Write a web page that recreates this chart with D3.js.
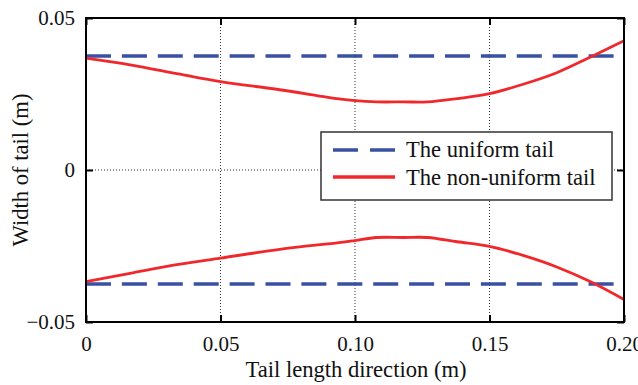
<!DOCTYPE html>
<html>
<head>
<meta charset="utf-8">
<script src="https://d3js.org/d3.v7.min.js"></script>
<style>
  body { margin: 0; background: #fff; }
  svg text { font-family: 'Liberation Serif', 'Times New Roman', Times, 'DejaVu Serif', serif !important; fill: #111; }
</style>
</head>
<body>
<div id="chart"></div>
<script>
// data
var xs      = [0, 0.0164, 0.035, 0.05, 0.072, 0.094, 0.1, 0.108, 0.118, 0.127, 0.138, 0.15, 0.1625, 0.175, 0.1874, 0.2];
var upper   = [0.0368, 0.0346, 0.0315, 0.0291, 0.0264, 0.0234, 0.0228, 0.0224, 0.0224, 0.0224, 0.0235, 0.0251, 0.0282, 0.0320, 0.0371, 0.0425];
var lower   = [-0.0367, -0.0340, -0.0310, -0.0290, -0.0261, -0.0239, -0.0232, -0.0222, -0.0222, -0.0222, -0.0236, -0.0251, -0.0281, -0.0319, -0.0367, -0.0426];
var uniformW = 0.0375;
var xTicks = [0, 0.05, 0.10, 0.15, 0.20];
var xTickLabels = ["0", "0.05", "0.10", "0.15", "0.20"];
var yTicks = [-0.05, 0, 0.05];
var yTickLabels = ["\u22120.05", "0", "0.05"];
var legendLabels = ["The uniform tail", "The non-uniform tail"];

var blue = "#3a50a2", red = "#f0282c";

var margin = {top: 18, right: 14, bottom: 63, left: 86},
    width = 638 - margin.left - margin.right,
    height = 385 - margin.top - margin.bottom;

var svg = d3.select("#chart").append("svg")
    .attr("width", 638)
    .attr("height", 385)
  .append("g")
    .attr("transform", "translate(" + margin.left + "," + margin.top + ")");

var x = d3.scaleLinear().domain([0, 0.2]).range([0, width]);
var y = d3.scaleLinear().domain([-0.05, 0.05]).range([height, 0]);

// dotted grid
svg.selectAll(".vgrid")
  .data(xTicks.slice(1, -1))
  .enter().append("line")
    .attr("x1", function(d) { return x(d); })
    .attr("x2", function(d) { return x(d); })
    .attr("y1", 0).attr("y2", height)
    .attr("stroke", "#333").attr("stroke-width", 1)
    .attr("stroke-dasharray", "1,2");
svg.append("line")
    .attr("x1", 0).attr("x2", width)
    .attr("y1", y(0)).attr("y2", y(0))
    .attr("stroke", "#333").attr("stroke-width", 1)
    .attr("stroke-dasharray", "1,2");

// axes, ticks pointing inward
var fmtX = function(d, i) { return xTickLabels[i]; };
var fmtY = function(d, i) { return yTickLabels[i]; };

var xAxis = svg.append("g")
    .attr("transform", "translate(0," + height + ")")
    .call(d3.axisBottom(x).tickValues(xTicks).tickFormat(fmtX).tickSizeInner(-7).tickSizeOuter(0).tickPadding(14));
var xAxisTop = svg.append("g")
    .call(d3.axisTop(x).tickValues(xTicks).tickFormat("").tickSizeInner(-7).tickSizeOuter(0));
var yAxis = svg.append("g")
    .call(d3.axisLeft(y).tickValues(yTicks).tickFormat(fmtY).tickSizeInner(-7).tickSizeOuter(0).tickPadding(11));
var yAxisRight = svg.append("g")
    .attr("transform", "translate(" + width + ",0)")
    .call(d3.axisRight(y).tickValues(yTicks).tickFormat("").tickSizeInner(-7).tickSizeOuter(0));

[xAxis, xAxisTop, yAxis, yAxisRight].forEach(function(a) {
  a.attr("font-family", null);
  a.select(".domain").remove();
  a.selectAll(".tick line").attr("stroke", "#000").attr("stroke-width", 2);
  a.selectAll(".tick text").style("font-size", "21px").attr("fill", "#111");
});

// uniform tail
[uniformW, -uniformW].forEach(function(w) {
  svg.append("line")
      .attr("x1", x(0)).attr("x2", x(0.2))
      .attr("y1", y(w)).attr("y2", y(w))
      .attr("stroke", blue).attr("stroke-width", 3.5)
      .attr("stroke-dasharray", "25,10.9");
});

// non-uniform tail
var line = d3.line()
    .x(function(d) { return x(d[0]); })
    .y(function(d) { return y(d[1]); })
    .curve(d3.curveCatmullRom.alpha(0.5));

[upper, lower].forEach(function(s) {
  svg.append("path")
      .datum(xs.map(function(v, i) { return [v, s[i]]; }))
      .attr("fill", "none")
      .attr("stroke", red)
      .attr("stroke-width", 2.8)
      .attr("d", line);
});

// frame
svg.append("rect")
    .attr("width", width).attr("height", height)
    .attr("fill", "none").attr("stroke", "#000").attr("stroke-width", 2);

// legend
var lg = svg.append("g").attr("transform", "translate(235,114)");
lg.append("rect")
    .attr("width", 291).attr("height", 68)
    .attr("fill", "#fff").attr("stroke", "#333").attr("stroke-width", 1.5);
lg.append("line")
    .attr("x1", 12).attr("x2", 74).attr("y1", 18).attr("y2", 18)
    .attr("stroke", blue).attr("stroke-width", 3.5).attr("stroke-dasharray", "25,12");
lg.append("line")
    .attr("x1", 12).attr("x2", 74).attr("y1", 45).attr("y2", 45)
    .attr("stroke", red).attr("stroke-width", 3.5);
lg.selectAll(".lt")
  .data(legendLabels)
  .enter().append("text")
    .attr("x", 85)
    .attr("y", function(d, i) { return 25 + i * 28; })
    .style("font-size", "22.6px")
    .text(function(d) { return d; });

// axis titles
svg.append("text")
    .attr("x", width / 2 + 1)
    .attr("y", height + 55)
    .attr("text-anchor", "middle")
    .style("font-size", "22.6px")
    .text("Tail length direction (m)");
svg.append("text")
    .attr("transform", "translate(-58," + (height / 2) + ") rotate(-90)")
    .attr("text-anchor", "middle")
    .style("font-size", "22.6px")
    .text("Width of tail (m)");
</script>
</body>
</html>
